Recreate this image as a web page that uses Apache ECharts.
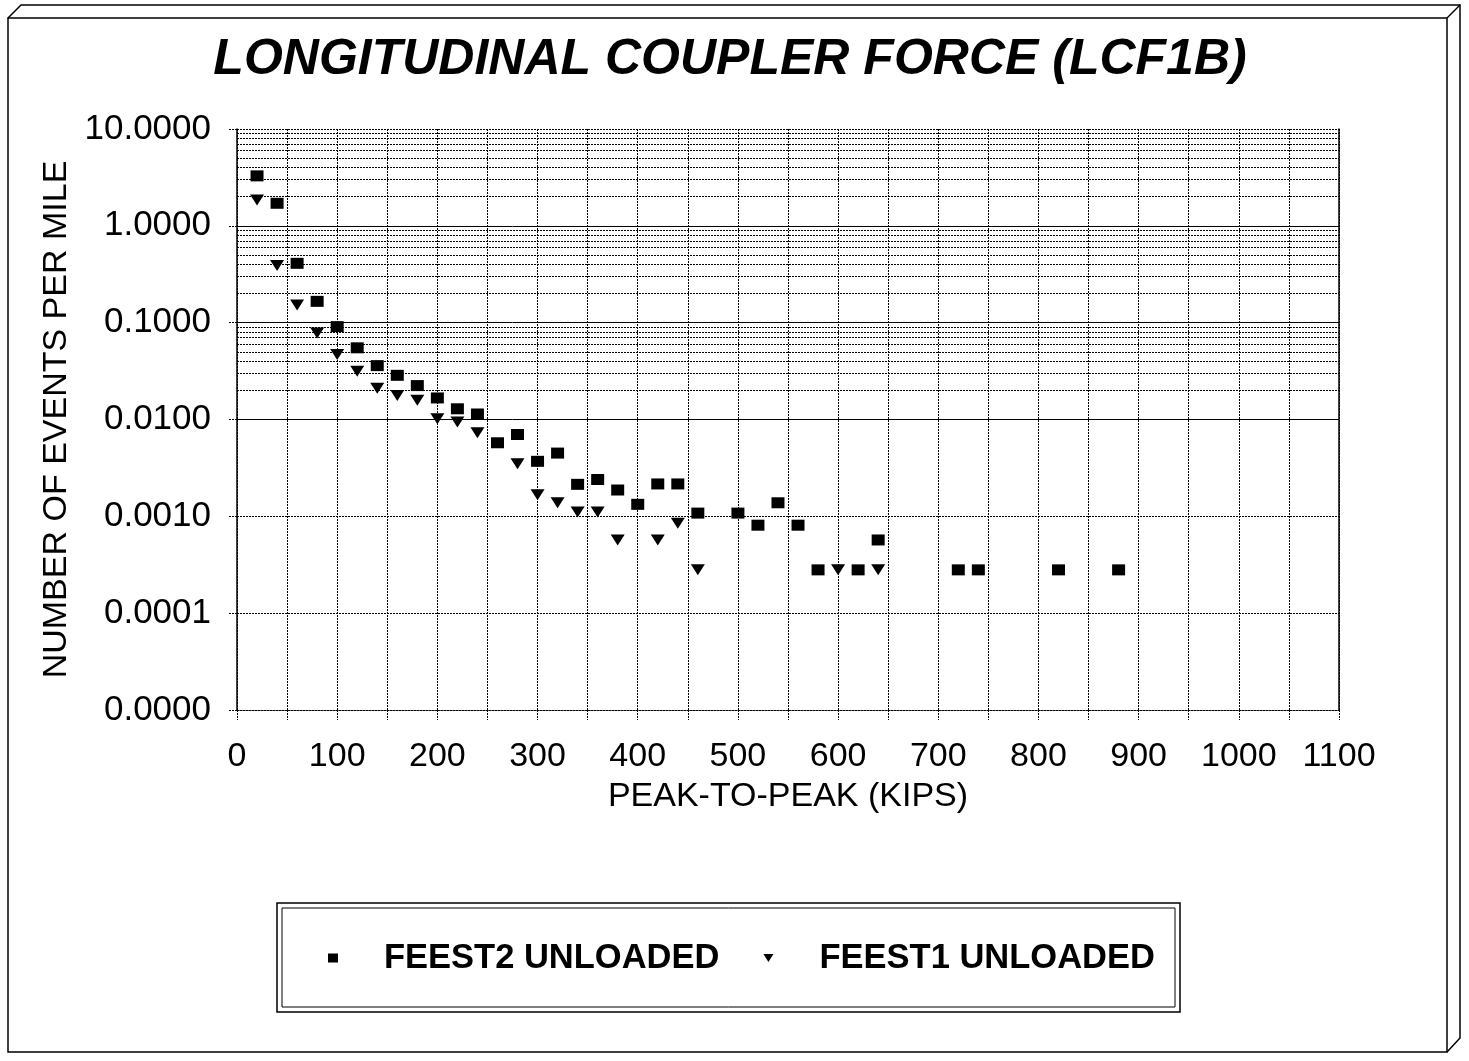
<!DOCTYPE html>
<html>
<head>
<meta charset="utf-8">
<script src="https://cdn.jsdelivr.net/npm/echarts@6/dist/echarts.min.js"></script>
<style>
  html, body { margin: 0; padding: 0; background: #fff; }
  #chart { width: 1469px; height: 1061px; }
</style>
</head>
<body>
<div id="chart"></div>
<script>
// Peak-to-peak force bins (kips) and events per mile
const feest2X = [20, 40, 60, 80, 100, 120, 140, 160, 180, 200, 220, 240, 260, 280, 300, 320, 340, 360, 380, 400, 420, 440, 460, 500, 520, 540, 560, 580, 620, 640, 720, 740, 820, 880];
const feest2Y = [3.28, 1.71, 0.41, 0.166, 0.091, 0.055, 0.036, 0.0286, 0.0224, 0.0167, 0.0129, 0.0114, 0.00575, 0.0070, 0.0037, 0.0045, 0.00214, 0.0024, 0.00187, 0.00133, 0.00216, 0.00216, 0.00108, 0.00108, 0.00081, 0.00138, 0.00081, 0.00028, 0.00028, 0.00057, 0.00028, 0.00028, 0.00028, 0.00028];

const feest1X = [20, 40, 60, 80, 100, 120, 140, 160, 180, 200, 220, 240, 280, 300, 320, 340, 360, 380, 420, 440, 460, 600, 640];
const feest1Y = [1.85, 0.39, 0.152, 0.078, 0.047, 0.0315, 0.021, 0.0177, 0.0158, 0.0102, 0.0094, 0.0073, 0.0035, 0.00167, 0.00138, 0.00111, 0.00111, 0.00057, 0.00057, 0.00085, 0.00028, 0.00028, 0.00028];

const seriesNames = ['FEEST2 UNLOADED', 'FEEST1 UNLOADED'];
const titleText = 'LONGITUDINAL COUPLER FORCE (LCF1B)';
const xTitle = 'PEAK-TO-PEAK (KIPS)';
const yTitle = 'NUMBER OF EVENTS PER MILE';

const FONT = "'Liberation Sans', Arial, Helvetica, sans-serif";
const DOT = [2, 1];
const TRI = 'path://M0,0L12,0L6,10Z';

// Log-axis minor gridlines at 2..9 of every decade
const decades = [1e-5, 1e-4, 1e-3, 1e-2, 1e-1, 1];
const minorLines = [];
decades.forEach(d => {
  for (let k = 2; k <= 9; k++) minorLines.push({ yAxis: Number((k * d).toPrecision(2)) });
});
// Interior decade lines drawn solid
const solidLines = [1, 0.1, 0.01, 0.001].map(v => ({ yAxis: v, lineStyle: { type: 'solid', color: '#000', width: 1 } }));

const chart = echarts.init(document.getElementById('chart'), null, { renderer: 'canvas' });

chart.setOption({
  animation: false,
  backgroundColor: '#fff',
  textStyle: { fontFamily: FONT, color: '#000' },
  title: {
    text: titleText,
    left: 725,
    top: 30,
    textAlign: 'center',
    textStyle: { fontFamily: FONT, fontSize: 50, fontWeight: 'bold', fontStyle: 'italic', color: '#000' }
  },
  grid: { left: 237, right: 130, top: 129, bottom: 351, containLabel: false },
  legend: {
    left: 328,
    top: 938,
    padding: 0,
    itemGap: 44,
    itemWidth: 10,
    itemHeight: 9,
    selectedMode: false,
    textStyle: { fontFamily: FONT, fontSize: 34.5, fontWeight: 'bold', color: '#000', lineHeight: 40, padding: [0, 0, 0, 41] },
    data: [
      { name: seriesNames[0], icon: 'rect', itemStyle: { opacity: 1 } },
      { name: seriesNames[1], icon: 'path://M0,0L10,0L5,8Z', itemStyle: { opacity: 1 } }
    ]
  },
  xAxis: {
    type: 'value',
    min: 0,
    max: 1100,
    interval: 50,
    name: xTitle,
    nameLocation: 'middle',
    nameGap: 70,
    nameTextStyle: { fontFamily: FONT, fontSize: 34, color: '#000' },
    axisLine: { show: true, onZero: false, lineStyle: { color: '#000', type: DOT, width: 1 } },
    axisTick: { show: true, length: 10, lineStyle: { color: '#000', type: DOT, width: 1 } },
    axisLabel: {
      margin: 30,
      fontFamily: FONT,
      fontSize: 34,
      color: '#000',
      formatter: v => (v % 100 === 0 ? String(v) : '')
    },
    splitLine: { show: true, lineStyle: { color: '#000', type: DOT, width: 1 } }
  },
  yAxis: [
    {
      type: 'log',
      logBase: 10,
      min: 1e-5,
      max: 10,
      splitNumber: 6,
      name: yTitle,
      nameLocation: 'middle',
      nameGap: 160,
      nameTextStyle: { fontFamily: FONT, fontSize: 34, color: '#000' },
      axisLine: { show: true, lineStyle: { color: '#000', width: 1.5 } },
      axisTick: { show: true, length: 9, lineStyle: { color: '#000', type: DOT, width: 1 } },
      axisLabel: {
        margin: 26,
        fontFamily: FONT,
        fontSize: 35,
        color: '#000',
        formatter: v => Number(v).toFixed(4)
      },
      splitLine: { show: true, lineStyle: { color: '#000', type: DOT, width: 1 } }
    },
    {
      // right-hand frame of the plot area
      type: 'log',
      logBase: 10,
      min: 1e-5,
      max: 10,
      position: 'right',
      axisLine: { show: true, lineStyle: { color: '#000', width: 1.5 } },
      axisTick: { show: false },
      axisLabel: { show: false },
      splitLine: { show: false }
    }
  ],
  series: [
    {
      name: seriesNames[0],
      type: 'scatter',
      symbol: 'rect',
      symbolSize: [13, 11],
      itemStyle: { color: '#000', opacity: 1 },
      z: 5,
      data: feest2X.map((x, i) => [x, feest2Y[i]]),
      markLine: {
        silent: true,
        symbol: ['none', 'none'],
        label: { show: false },
        lineStyle: { color: '#000', type: DOT, width: 1, opacity: 1 },
        data: minorLines.concat(solidLines),
        z: 1
      }
    },
    {
      name: seriesNames[1],
      type: 'scatter',
      symbol: TRI,
      symbolSize: [14, 11],
      itemStyle: { color: '#000', opacity: 1 },
      z: 5,
      data: feest1X.map((x, i) => [x, feest1Y[i]])
    }
  ],
  graphic: [
    // page frame drawn as a raised box
    { type: 'rect', shape: { x: 8, y: 18, width: 1439, height: 1034 }, style: { fill: 'none', stroke: '#000', lineWidth: 1.5 }, silent: true },
    { type: 'polyline', shape: { points: [[8, 18], [21, 5], [1460, 5], [1460, 1038], [1447, 1052]] }, style: { fill: 'none', stroke: '#000', lineWidth: 1.5 }, silent: true },
    { type: 'line', shape: { x1: 1447, y1: 18, x2: 1460, y2: 5 }, style: { stroke: '#000', lineWidth: 1.5 }, silent: true },
    // legend box with double border
    { type: 'rect', shape: { x: 277, y: 903, width: 903, height: 109 }, style: { fill: 'none', stroke: '#000', lineWidth: 1.5 }, silent: true },
    { type: 'rect', shape: { x: 282, y: 908, width: 893, height: 99 }, style: { fill: 'none', stroke: '#000', lineWidth: 1 }, silent: true }
  ]
});
</script>
</body>
</html>
